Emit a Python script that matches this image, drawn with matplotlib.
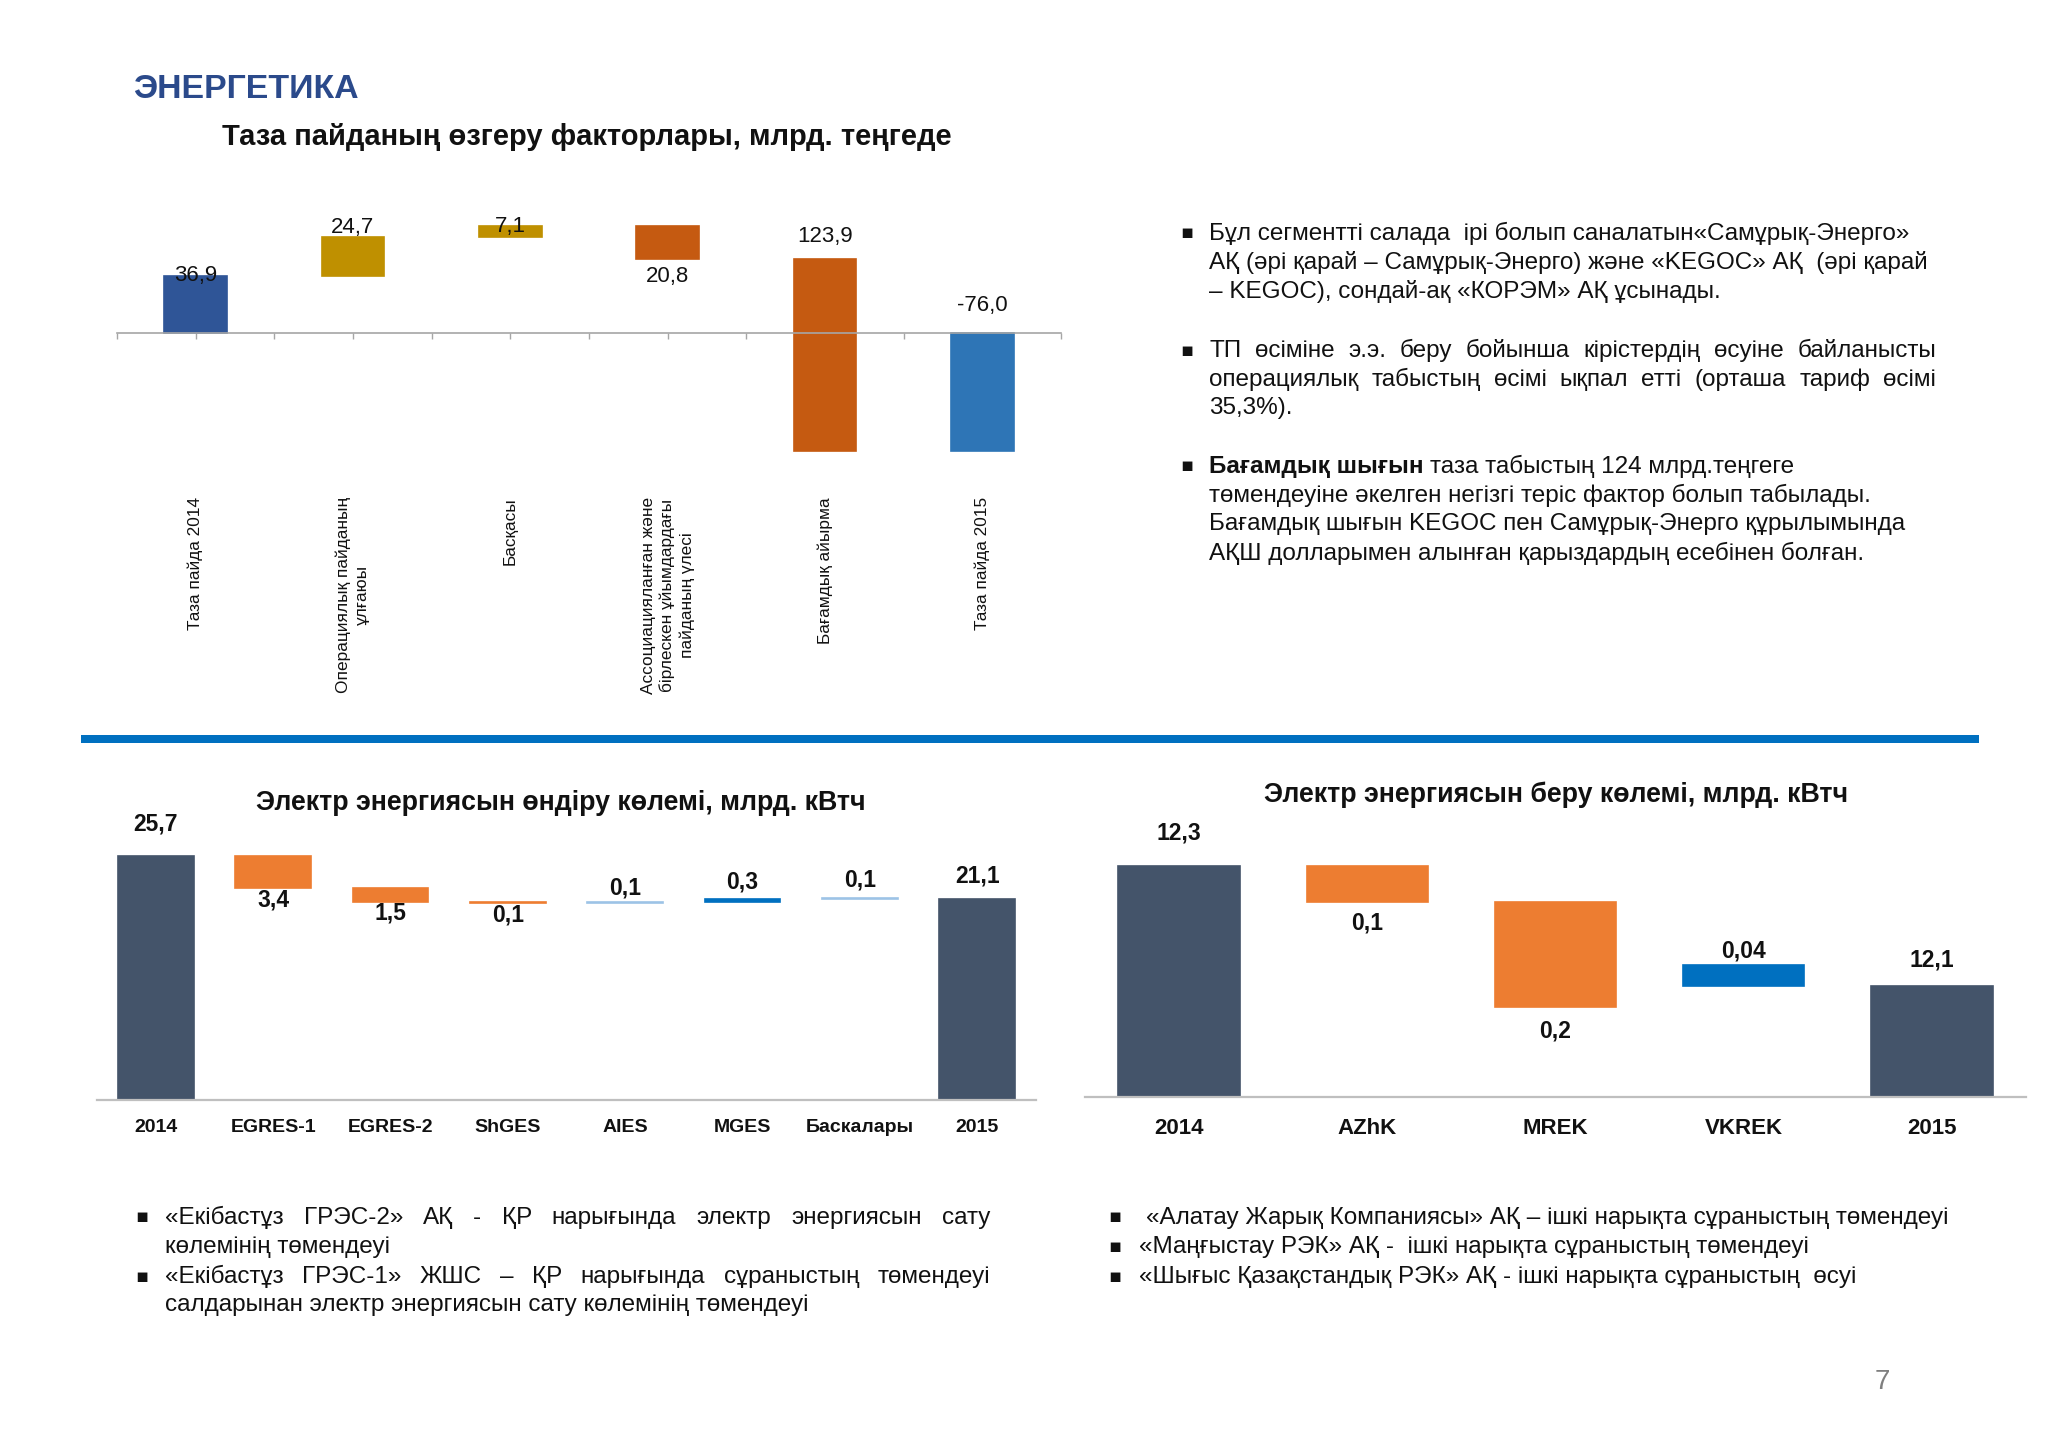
import matplotlib
matplotlib.use('Agg')
import matplotlib.pyplot as plt
from matplotlib.patches import Rectangle

plt.rcParams['font.family'] = ['Liberation Sans', 'DejaVu Sans']

# ---------------- DATA ----------------
net_cats = ['Таза пайда 2014', 'Операциялық пайданың\nұлғаюы', 'Басқасы',
            'Ассоциацияланған және\nбірлескен ұйымдардағы\nпайданың үлесі',
            'Бағамдық айырма', 'Таза пайда 2015']
net_vals = [36.9, 24.7, 7.1, -20.8, -123.9, -76.0]
net_labels = ['36,9', '24,7', '7,1', '20,8', '123,9', '-76,0']
net_total = [True, False, False, False, False, True]

gen_cats = ['2014', 'EGRES-1', 'EGRES-2', 'ShGES', 'AIES', 'MGES', 'Баскалары', '2015']
gen_vals = [25.7, -3.4, -1.5, -0.1, 0.1, 0.3, 0.1, 21.1]
gen_labels = ['25,7', '3,4', '1,5', '0,1', '0,1', '0,3', '0,1', '21,1']
gen_total = [True, False, False, False, False, False, False, True]

# transmission chart: invisible base series + visible series (as in the source stacked chart)
tr_cats = ['2014', 'AZhK', 'MREK', 'VKREK', '2015']
tr_base = [0.0, 12.24, 12.065, 12.10, 0.0]
tr_vals = [12.3, 0.06, 0.175, 0.035, 12.1]
tr_labels = ['12,3', '0,1', '0,2', '0,04', '12,1']

# ---------------- STYLE ----------------
W, H, DPI = 2048, 1448, 100
net_colors = ['#2F5597', '#BF9000', '#BF9000', '#C55A11', '#C55A11', '#2E75B6']
gen_colors = ['#44546A', '#ED7D31', '#ED7D31', '#ED7D31', '#9DC3E6', '#0070C0', '#9DC3E6', '#44546A']
tr_colors = ['#44546A', '#ED7D31', '#ED7D31', '#0070C0', '#44546A']
net_lab_pos = [('top', 0), ('top', 10), ('top', 0), ('bottom', -18), ('top', 22), ('top', 27)]
gen_lab_pos = [('top', 32), ('bottom', -12), ('bottom', -11), ('bottom', -12),
               ('top', 14), ('top', 17), ('top', 18), ('top', 23)]
tr_lab_pos = [('top', 33), ('bottom', -21), ('bottom', -24), ('top', 14), ('top', 26)]

fig = plt.figure(figsize=(W / DPI, H / DPI), dpi=DPI)
fig.patch.set_facecolor('white')
renderer = fig.canvas.get_renderer()


def ax_px(x0, y0, x1, y1):
    return fig.add_axes([x0 / W, 1 - y1 / H, (x1 - x0) / W, (y1 - y0) / H])


def waterfall(vals, totals):
    bottoms, run = [], 0.0
    for v, t in zip(vals, totals):
        if t:
            bottoms.append(0.0)
            run = v
        else:
            bottoms.append(run)
            run += v
    return bottoms


def draw_bars(ax, bottoms, vals, colors, labels, lab_pos, width, size, weight):
    xs = list(range(len(vals)))
    ax.bar(xs, vals, bottom=bottoms, width=width, color=colors,
           edgecolor=colors, linewidth=1.2, zorder=3)
    for i, (b, v) in enumerate(zip(bottoms, vals)):
        edge, off = lab_pos[i]
        y = max(b, b + v) if edge == 'top' else min(b, b + v)
        ax.annotate(labels[i], xy=(i, y), xytext=(0, off * 72 / DPI),
                    textcoords='offset points', ha='center', va='center',
                    fontsize=size, fontweight=weight, color='#111111',
                    annotation_clip=False, zorder=5)


# ---------------- TITLES ----------------
fig.text(133 / W, 1 - 90 / H, 'ЭНЕРГЕТИКА', fontsize=24.4, fontweight='bold',
         color='#2B4A8B', ha='left', va='center')
fig.text(222 / W, 1 - 137 / H, 'Таза пайданың өзгеру факторлары, млрд. теңгеде',
         fontsize=21, fontweight='bold', color='#111111', ha='left', va='center')

# ---------------- TOP CHART ----------------
ax1 = ax_px(117, 200, 1061, 470)
ax1.set_xlim(-0.5, 5.5)
ax1.set_ylim(-(470 - 333) / 1.554, (333 - 200) / 1.554)
draw_bars(ax1, waterfall(net_vals, net_total), net_vals, net_colors, net_labels,
          net_lab_pos, 0.4, 16, 'normal')
for s in ['top', 'left', 'right']:
    ax1.spines[s].set_visible(False)
ax1.spines['bottom'].set_position(('data', 0))
ax1.spines['bottom'].set_color('#A6A6A6')
ax1.spines['bottom'].set_linewidth(1.2)
ax1.spines['bottom'].set_zorder(4)
ax1.set_yticks([])
ax1.set_xticks(range(len(net_cats)))
ax1.set_xticks([i - 0.5 for i in range(len(net_cats) + 1)], minor=True)
ax1.set_xticklabels(net_cats, rotation=90, ha='center', va='top',
                    multialignment='center', fontsize=12.4, color='#111111', linespacing=1.3)
ax1.tick_params(axis='x', which='both', direction='out', length=4, color='#A6A6A6', width=1)
ax1.tick_params(axis='x', which='major', pad=114)
ax1.patch.set_alpha(0)

# ---------------- BLUE SEPARATOR ----------------
fig.add_artist(Rectangle((81 / W, 1 - 743 / H), (1979 - 81) / W, 8 / H,
                         transform=fig.transFigure, color='#0070C0', lw=0))

# ---------------- BOTTOM LEFT CHART ----------------
fig.text(561 / W, 1 - 803 / H, 'Электр энергиясын өндіру көлемі, млрд. кВтч',
         fontsize=19.3, fontweight='bold', color='#111111', ha='center', va='center')
ax2 = ax_px(97, 815, 1036, 1100)
ax2.set_xlim(-0.5, 7.5)
ax2.set_ylim(0, 285 / 9.51)
draw_bars(ax2, waterfall(gen_vals, gen_total), gen_vals, gen_colors, gen_labels,
          gen_lab_pos, 0.645, 16.5, 'bold')

# ---------------- BOTTOM RIGHT CHART ----------------
fig.text(1556 / W, 1 - 795 / H, 'Электр энергиясын беру көлемі, млрд. кВтч',
         fontsize=19.3, fontweight='bold', color='#111111', ha='center', va='center')
ax3 = ax_px(1085, 818, 2026, 1097)
ax3.set_xlim(-0.5, 4.5)
ax3.set_ylim(11.915, 11.915 + 279 / 600)
draw_bars(ax3, tr_base, tr_vals, tr_colors, tr_labels, tr_lab_pos, 0.645, 16.5, 'bold')

for ax, cats, fs, pad in [(ax2, gen_cats, 14, 20), (ax3, tr_cats, 16, 22.5)]:
    for s in ['top', 'left', 'right']:
        ax.spines[s].set_visible(False)
    ax.spines['bottom'].set_color('#BFBFBF')
    ax.spines['bottom'].set_linewidth(1.6)
    ax.spines['bottom'].set_zorder(4)
    ax.set_yticks([])
    ax.set_xticks(range(len(cats)))
    ax.set_xticklabels(cats, fontsize=fs, fontweight='bold', color='#111111')
    for lbl in ax.get_xticklabels():
        lbl.set_va('center')
    ax.tick_params(axis='x', length=0, pad=pad)
    ax.patch.set_alpha(0)

# ---------------- TEXT BLOCKS ----------------
FS = 17.5


def text_w(s, weight='normal', size=FS):
    t = fig.text(0, 0, s, fontsize=size, fontweight=weight)
    w = t.get_window_extent(renderer).width
    t.remove()
    return w


SPACE = text_w('н н') - text_w('нн')


def put_line(runs, x, yc, justify_to=None, size=FS, color='#111111'):
    em = size * DPI / 72
    fy = 1 - (yc + 0.3 * em) / H
    if justify_to is None:
        cx = x
        for k, (txt, wt) in enumerate(runs):
            if k > 0:
                cx += SPACE
            t = fig.text(cx / W, fy, txt, fontsize=size, fontweight=wt,
                         ha='left', va='baseline', color=color)
            cx += t.get_window_extent(renderer).width
    else:
        words = []
        for txt, wt in runs:
            words += [(w_, wt) for w_ in txt.split()]
        widths = [text_w(w_, wt, size) for w_, wt in words]
        gap = (justify_to - x - sum(widths)) / max(len(words) - 1, 1)
        cx = x
        for (w_, wt), ww in zip(words, widths):
            fig.text(cx / W, fy, w_, fontsize=size, fontweight=wt,
                     ha='left', va='baseline', color=color)
            cx += ww + gap


def bullet(x, yc, size=FS):
    fig.text(x / W, 1 - yc / H, '▪', fontsize=size * 0.8, ha='left', va='center',
             color='#111111', family=['DejaVu Sans'])


N = 'normal'
B = 'bold'
# right block
rx, rj = 1209, 1936
bullet(1180, 233)
put_line([('Бұл сегментті салада  ірі болып саналатын«Самұрық-Энерго»', N)], rx, 233)
put_line([('АҚ (әрі қарай – Самұрық-Энерго) және «KEGOC» АҚ  (әрі қарай', N)], rx, 262)
put_line([('– KEGOC), сондай-ақ «КОРЭМ» АҚ ұсынады.', N)], rx, 291)
bullet(1180, 350)
put_line([('ТП өсіміне э.э. беру бойынша кірістердің өсуіне байланысты', N)], rx, 350, rj)
put_line([('операциялық табыстың өсімі ықпал етті (орташа тариф өсімі', N)], rx, 379, rj)
put_line([('35,3%).', N)], rx, 407)
bullet(1180, 466)
put_line([('Бағамдық шығын', B), ('таза табыстың 124 млрд.теңгеге', N)], rx, 466)
put_line([('төмендеуіне әкелген негізгі теріс фактор болып табылады.', N)], rx, 495)
put_line([('Бағамдық шығын KEGOC пен Самұрық-Энерго құрылымында', N)], rx, 523)
put_line([('АҚШ долларымен алынған қарыздардың есебінен болған.', N)], rx, 553)

# bottom left block
lx, lj = 165, 990
bullet(135, 1217)
put_line([('«Екібастұз ГРЭС-2» АҚ - ҚР нарығында электр энергиясын сату', N)], lx, 1217, lj)
put_line([('көлемінің төмендеуі', N)], lx, 1246)
bullet(135, 1276)
put_line([('«Екібастұз ГРЭС-1» ЖШС – ҚР нарығында сұраныстың төмендеуі', N)], lx, 1276, lj)
put_line([('салдарынан электр энергиясын сату көлемінің төмендеуі', N)], lx, 1304)

# bottom right block
bullet(1108, 1217)
put_line([('«Алатау Жарық Компаниясы» АҚ – ішкі нарықта сұраныстың төмендеуі', N)], 1146, 1217)
bullet(1108, 1246)
put_line([('«Маңғыстау РЭК» АҚ -  ішкі нарықта сұраныстың төмендеуі', N)], 1139, 1246)
bullet(1108, 1276)
put_line([('«Шығыс Қазақстандық РЭК» АҚ - ішкі нарықта сұраныстың  өсуі', N)], 1139, 1276)

# page number
fig.text(1882 / W, 1 - 1382 / H, '7', fontsize=20, color='#7F7F7F', ha='center', va='center')

fig.savefig('out.png', dpi=DPI, facecolor='white')
